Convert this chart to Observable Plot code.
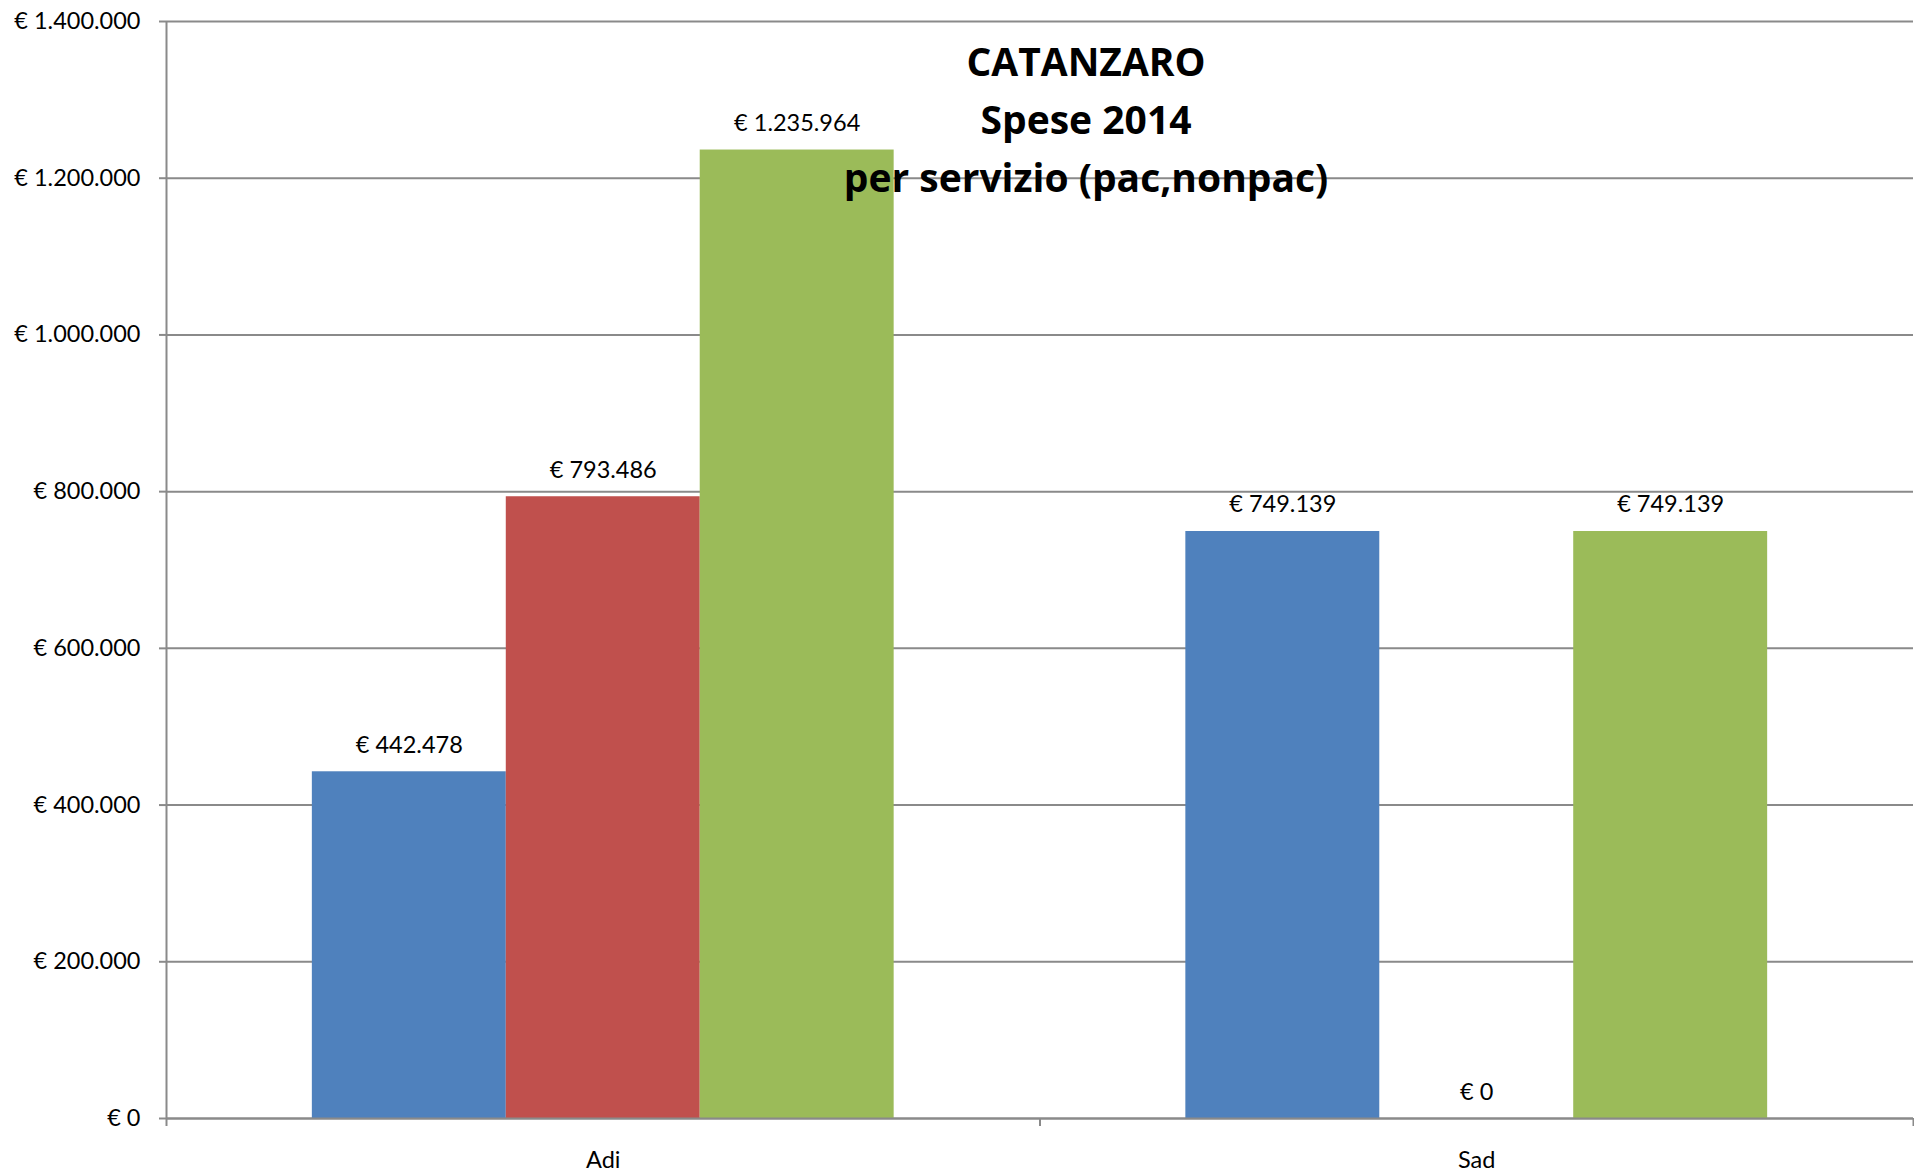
<!DOCTYPE html>
<html>
<head>
<meta charset="utf-8">
<script src="https://cdn.jsdelivr.net/npm/d3@7"></script>
<script src="https://cdn.jsdelivr.net/npm/@observablehq/plot@0.6"></script>
<style>
  html, body { margin: 0; padding: 0; background: #fff; }
  #wrap { position: relative; width: 1914px; height: 1175px; overflow: hidden; }
  #title {
    position: absolute; left: 586px; top: 32px; width: 1000px;
    text-align: center; font-family: "Open Sans", Lato, sans-serif;
    font-weight: bold; font-size: 39px; line-height: 58px; color: #000;
    pointer-events: none;
  }
</style>
</head>
<body>
<div id="wrap"><div id="chart"></div><div id="title"></div></div>
<script>
const categories = ["Adi", "Sad"];
const seriesNames = ["Pac", "Non pac", "Totale"];
const pacValues = [442478, 749139];
const nonpacValues = [793486, 0];
const totalValues = [1235964, 749139];
const seriesColors = ["#4F81BD", "#C0504D", "#9BBB59"];
const yTicks = [0, 200000, 400000, 600000, 800000, 1000000, 1200000, 1400000];
const titleLines = ["CATANZARO", "Spese 2014", "per servizio (pac,nonpac)"];

const seriesValues = [pacValues, nonpacValues, totalValues];
// position of each series inside its category slot (fraction of the slot)
const inner = d3.scaleBand().domain(seriesNames).range([0, 1]).paddingInner(0).paddingOuter(0.752);
const table = categories.flatMap((c, i) =>
  seriesNames.map((s, j) => ({
    category: c, series: s, value: seriesValues[j][i],
    x1: i + inner(s), x2: i + inner(s) + inner.bandwidth()
  }))
);
const slotEdges = d3.range(categories.length + 1);
const slotCenters = categories.map((c, i) => i + 0.5);

const locale = d3.formatLocale({decimal: ",", thousands: ".", grouping: [3], currency: ["€ ", ""]});
const euro = locale.format("$,.0f");
const gridColor = "#8a8a8a";

const chart = Plot.plot({
  width: 1914,
  height: 1175,
  marginLeft: 166,
  marginRight: 1,
  marginTop: 21,
  marginBottom: 57,
  style: {fontFamily: "Lato, 'Open Sans', sans-serif", fontSize: "23.5px", color: "#000", background: "#fff", overflow: "visible"},
  x: {type: "linear", domain: [0, categories.length], axis: null},
  y: {domain: [0, 1400000], label: null},
  color: {domain: seriesNames, range: seriesColors},
  marks: [
    Plot.gridY(yTicks, {stroke: gridColor, strokeOpacity: 1, strokeWidth: 2}),
    Plot.rectY(table, {x1: "x1", x2: "x2", y: "value", fill: "series"}),
    Plot.ruleY([0], {stroke: gridColor, strokeWidth: 2}),
    Plot.ruleX([0], {stroke: gridColor, strokeWidth: 2}),
    Plot.axisY(yTicks, {tickFormat: euro, tickSize: 7, tickPadding: 19, stroke: gridColor, strokeWidth: 2, fill: "#000", fontSize: 23.5, label: null}),
    Plot.axisX(slotEdges, {tickSize: 8, tickFormat: () => "", stroke: gridColor, strokeWidth: 2, label: null}),
    Plot.axisX(slotCenters, {tickSize: 0, tickPadding: 33, tickFormat: v => categories[Math.floor(v)], fontSize: 23.5, fill: "#000", label: null}),
    Plot.text(table, {x: d => (d.x1 + d.x2) / 2, y: "value", text: d => euro(d.value), lineAnchor: "bottom", dy: -19, fontSize: 23.5, fill: "#000"})
  ]
});
document.getElementById("chart").appendChild(chart);
document.getElementById("title").innerHTML = titleLines.join("<br>");
</script>
</body>
</html>
